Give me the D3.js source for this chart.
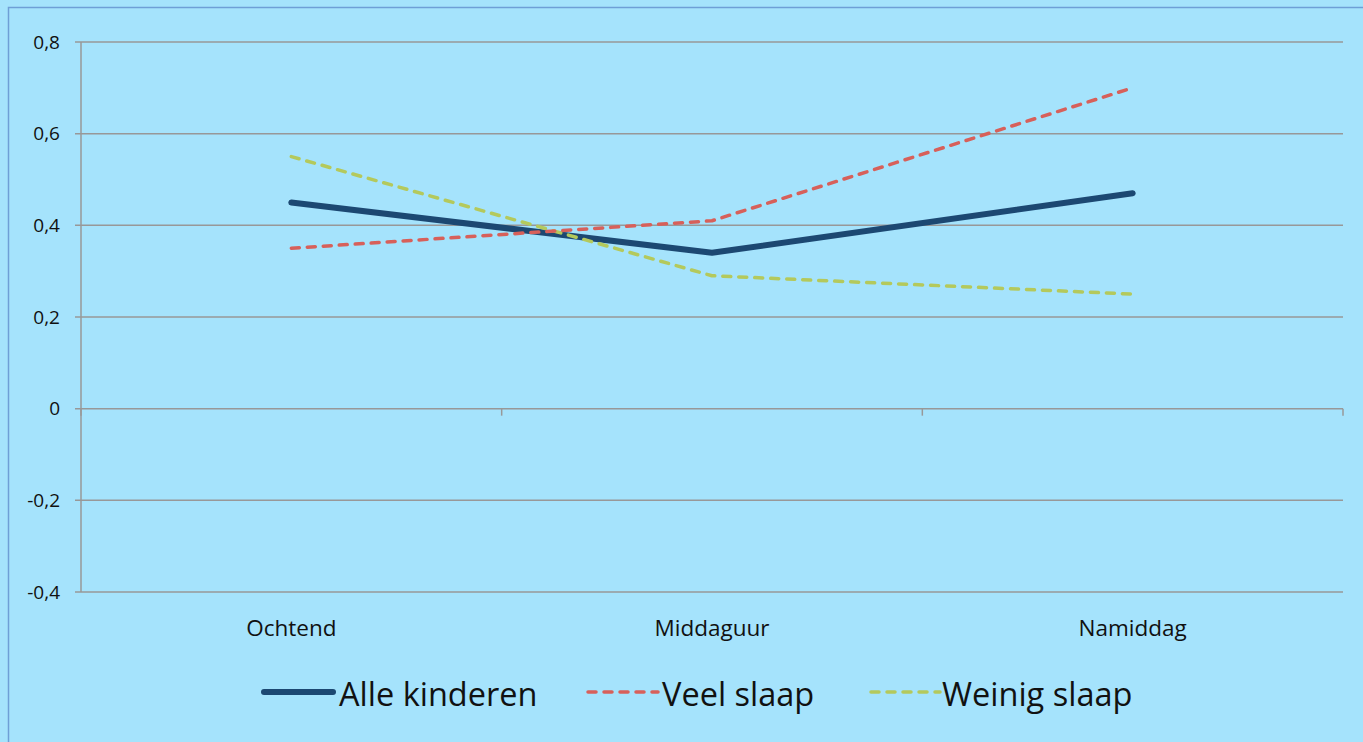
<!DOCTYPE html>
<html><head><meta charset="utf-8">
<script src="https://cdn.jsdelivr.net/npm/d3@7"></script>
<style>
html,body{margin:0;padding:0;background:#a5e3fc;overflow:hidden;}
svg{display:block;}
</style></head>
<body>
<script>
const categories = ["Ochtend", "Middaguur", "Namiddag"];
const alleKinderen = [0.45, 0.34, 0.47];
const veelSlaap = [0.35, 0.41, 0.70];
const weinigSlaap = [0.55, 0.29, 0.25];
const yTicks = [0.8, 0.6, 0.4, 0.2, 0, -0.2, -0.4];
const seriesNames = ["Alle kinderen", "Veel slaap", "Weinig slaap"];

(function () {
const W = 1363, H = 742;
const svg = d3.select("body").append("svg").attr("width", W).attr("height", H);
svg.append("rect").attr("x", 0).attr("y", 0).attr("width", W).attr("height", H).attr("fill", "#a5e3fc");
svg.append("rect").attr("x", 8.5).attr("y", 7.5).attr("width", W + 20).attr("height", H + 20)
  .attr("fill", "none").attr("stroke", "#6f9fd6").attr("stroke-width", 1.5);

const pLeft = 81, pRight = 1343, pTop = 42, pBottom = 592;
const y = d3.scaleLinear().domain([-0.4, 0.8]).range([pBottom, pTop]);
const xBand = d3.scaleBand().domain(categories).range([pLeft, pRight]).padding(0);
const xc = c => xBand(c) + xBand.bandwidth() / 2;

const font = "'Open Sans', 'Noto Sans', sans-serif";
const fmt = v => v === 0 ? "0" : d3.format(".1f")(v).replace(".", ",").replace("−", "-");

svg.append("g").selectAll("line").data(yTicks).join("line")
  .attr("x1", pLeft - 6).attr("x2", pRight)
  .attr("y1", d => y(d)).attr("y2", d => y(d))
  .attr("stroke", "#989898").attr("stroke-width", 1.5);

svg.append("line").attr("x1", pLeft).attr("x2", pLeft).attr("y1", pTop).attr("y2", pBottom)
  .attr("stroke", "#989898").attr("stroke-width", 1.5);

svg.append("g").selectAll("text").data(yTicks).join("text")
  .attr("x", 60).attr("y", d => y(d)).attr("dy", "0.35em")
  .attr("text-anchor", "end").attr("font-family", font).attr("font-size", 19)
  .attr("fill", "#111").text(fmt);

const bounds = categories.map(c => xBand(c)).concat([pRight]);
svg.append("g").selectAll("line").data(bounds).join("line")
  .attr("x1", d => d).attr("x2", d => d)
  .attr("y1", y(0)).attr("y2", y(0) + 7)
  .attr("stroke", "#989898").attr("stroke-width", 1.5);

svg.append("g").selectAll("text").data(categories).join("text")
  .attr("x", d => xc(d)).attr("y", 636)
  .attr("text-anchor", "middle").attr("font-family", font).attr("font-size", 22.5)
  .attr("fill", "#111").text(d => d);

const styles = [
  {data: alleKinderen, color: "#1c4872", width: 6, dash: null},
  {data: veelSlaap, color: "#d7605a", width: 3.5, dash: "8,8"},
  {data: weinigSlaap, color: "#b4c95c", width: 3.5, dash: "8,8"}
];
const line = d3.line().x((d, i) => xc(categories[i])).y(d => y(d));
[styles[0], styles[2], styles[1]].forEach(s => {
  svg.append("path").datum(s.data).attr("d", line)
    .attr("fill", "none").attr("stroke", s.color).attr("stroke-width", s.width)
    .attr("stroke-linecap", "round").attr("stroke-linejoin", "round")
    .attr("stroke-dasharray", s.dash);
});

const legendItems = [
  {name: seriesNames[0], s: styles[0], x1: 264, x2: 333, tx: 339},
  {name: seriesNames[1], s: styles[1], x1: 588, x2: 658, tx: 662},
  {name: seriesNames[2], s: styles[2], x1: 871, x2: 940, tx: 942}
];
const lg = svg.append("g");
legendItems.forEach(it => {
  lg.append("line").attr("x1", it.x1).attr("x2", it.x2).attr("y1", 692).attr("y2", 692)
    .attr("stroke", it.s.color).attr("stroke-width", it.s.width)
    .attr("stroke-linecap", "round").attr("stroke-dasharray", it.s.dash);
  lg.append("text").attr("x", it.tx).attr("y", 706)
    .attr("font-family", font).attr("font-size", 32.5).attr("fill", "#111").text(it.name);
});
})();
</script>
</body></html>
